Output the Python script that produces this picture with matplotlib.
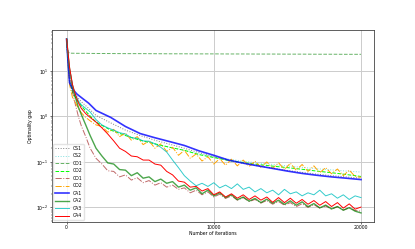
import numpy as np
import matplotlib.pyplot as plt

# smooth curves (CS*, CD*, CA1) sampled on a coarse grid
it_s = [0, 100, 200, 400, 700, 1000, 1500, 2000, 3000, 4000, 5000, 6000, 7000,
        8000, 9000, 10000, 11000, 12000, 13000, 14000, 15000, 16000, 17000,
        18000, 19000, 20000]

cs1 = [50, 15, 5.8, 3.7, 2.7, 2.1, 1.5, 1.05, 0.72, 0.5, 0.38, 0.3, 0.245,
       0.2, 0.16, 0.13, 0.108, 0.093, 0.082, 0.073, 0.065, 0.059, 0.054,
       0.05, 0.047, 0.044]
cs2 = [50, 15, 6, 3.4, 2.3, 1.7, 1.1, 0.75, 0.5, 0.38, 0.3, 0.25, 0.21,
       0.18, 0.15, 0.13, 0.115, 0.104, 0.095, 0.088, 0.082, 0.076, 0.071,
       0.067, 0.063, 0.06]
cd1 = [48, 26, 24.5, 24.4, 24.3, 24.3, 24.2, 24.1, 24.0, 23.9, 23.9, 23.8,
       23.7, 23.7, 23.6, 23.6, 23.5, 23.5, 23.4, 23.4, 23.3, 23.3, 23.2,
       23.2, 23.1, 23.1]
cd2 = [50, 15, 6, 3.4, 2.3, 1.7, 1.1, 0.75, 0.5, 0.38, 0.3, 0.25, 0.21,
       0.18, 0.145, 0.125, 0.108, 0.097, 0.088, 0.081, 0.075, 0.069, 0.063,
       0.058, 0.053, 0.048]
ca1 = [50, 15, 5.5, 4.0, 3.1, 2.6, 1.95, 1.35, 0.95, 0.6, 0.42, 0.34, 0.28,
       0.23, 0.175, 0.14, 0.11, 0.094, 0.082, 0.072, 0.063, 0.056, 0.051,
       0.047, 0.044, 0.041]

# noisy curves (CO*, CA2-4) on a finer grid
it_n = [0, 100, 200, 400, 600, 800, 1000, 1300, 1600, 2000] + list(range(2400, 20001, 400))

co1 = [50, 20, 9, 3.5, 1.8, 1.0, 0.62, 0.36, 0.2, 0.12,
       0.09, 0.064, 0.062, 0.047, 0.052, 0.04, 0.045, 0.035, 0.039, 0.031,
       0.035, 0.028, 0.031, 0.025, 0.027, 0.021, 0.024, 0.019, 0.022, 0.017,
       0.0195, 0.0158, 0.018, 0.0145, 0.0165, 0.0135, 0.015, 0.0125, 0.0142,
       0.0118, 0.0135, 0.0112, 0.0128, 0.0104, 0.0121, 0.0101, 0.0115, 0.0097,
       0.0108, 0.0092, 0.0104, 0.0088, 0.0099, 0.0086, 0.0083]
co2 = [45, 15, 5, 2.6, 2.0, 1.5, 1.2, 0.95, 0.8, 0.65,
       0.6, 0.45, 0.52, 0.36, 0.43, 0.3, 0.36, 0.24, 0.29, 0.2,
       0.25, 0.17, 0.21, 0.14, 0.18, 0.12, 0.15, 0.105, 0.13, 0.09,
       0.118, 0.085, 0.115, 0.082, 0.11, 0.08, 0.104, 0.076, 0.1, 0.072,
       0.096, 0.068, 0.094, 0.066, 0.088, 0.062, 0.082, 0.058, 0.075, 0.055,
       0.07, 0.05, 0.066, 0.048, 0.046]
ca2 = [50, 22, 11, 4.5, 2.6, 1.6, 1.1, 0.65, 0.38, 0.2,
       0.135, 0.095, 0.09, 0.068, 0.066, 0.05, 0.058, 0.044, 0.047, 0.037,
       0.042, 0.034, 0.037, 0.028, 0.031, 0.024, 0.027, 0.02, 0.024, 0.018,
       0.021, 0.0165, 0.019, 0.0148, 0.017, 0.0138, 0.0158, 0.0128, 0.0152,
       0.0124, 0.0145, 0.0117, 0.014, 0.0112, 0.0133, 0.0104, 0.0122, 0.0098,
       0.0113, 0.0093, 0.0105, 0.0087, 0.0099, 0.0083, 0.0076]
ca3 = [50, 22, 11, 5, 3, 2.2, 1.8, 1.5, 1.25, 0.85,
       0.65, 0.56, 0.5, 0.44, 0.41, 0.34, 0.33, 0.29, 0.285, 0.25,
       0.21, 0.165, 0.11, 0.075, 0.05, 0.038, 0.03, 0.034, 0.029, 0.035,
       0.027, 0.031, 0.026, 0.033, 0.025, 0.028, 0.022, 0.026, 0.021, 0.024,
       0.019, 0.025, 0.02, 0.022, 0.018, 0.021, 0.019, 0.024, 0.018, 0.02,
       0.016, 0.019, 0.015, 0.018, 0.0165]
ca4 = [50, 25, 12, 5, 3, 2.0, 1.5, 1.15, 0.95, 0.75,
       0.56, 0.41, 0.29, 0.2, 0.17, 0.135, 0.13, 0.11, 0.11, 0.09,
       0.085, 0.062, 0.052, 0.038, 0.036, 0.028, 0.029, 0.023, 0.026, 0.019,
       0.022, 0.017, 0.02, 0.016, 0.019, 0.015, 0.018, 0.0145, 0.017, 0.013,
       0.0165, 0.0128, 0.016, 0.0124, 0.015, 0.0118, 0.0142, 0.0112, 0.0135,
       0.0105, 0.0128, 0.0097, 0.012, 0.0092, 0.0102]

fs = 3.3
fig, ax = plt.subplots(figsize=(4.15, 2.49), dpi=100)
lw = 0.7
ax.plot(it_s, cs1, ':', color='gray', lw=lw, label='CS1')
ax.plot(it_s, cs2, ':', color='#7fdfdf', lw=lw, label='CS2')
ax.plot(it_s, cd1, '--', color='green', lw=lw, alpha=0.6, label='CD1')
ax.plot(it_s, cd2, '--', color='lime', lw=lw, label='CD2')
ax.plot(it_n, co1, '-.', color='brown', lw=lw, alpha=0.7, label='CO1')
ax.plot(it_n, co2, '-.', color='orange', lw=lw, label='CO2')
ax.plot(it_s, ca1, '-', color='blue', lw=1.2, alpha=0.8, label='CA1')
ax.plot(it_n, ca2, '-', color='green', lw=1.0, alpha=0.7, label='CA2')
ax.plot(it_n, ca3, '-', color='c', lw=lw, alpha=0.8, label='CA3')
ax.plot(it_n, ca4, '-', color='red', lw=lw, label='CA4')

ax.set_yscale('log')
ax.set_xlim(-1000, 20850)
ax.set_ylim(10**-2.31, 10**1.9)
ax.set_xticks([0, 10000, 20000])
ax.grid(True, color='#cccccc', lw=0.7)
ax.tick_params(labelsize=fs, length=1.5, width=0.4, pad=1)
ax.tick_params(which='minor', length=0.8, width=0.3)
for s in ax.spines.values():
    s.set_linewidth(0.6)
    s.set_color('#444444')
ax.set_xlabel('Number of iterations', fontsize=fs, labelpad=1)
ax.set_ylabel('Optimality gap', fontsize=fs, labelpad=2)
ax.legend(loc='lower left', fontsize=fs, handlelength=3, labelspacing=0.55,
          borderaxespad=0.3, framealpha=0.8, edgecolor='#dddddd', fancybox=True)

fig.savefig('out.png', dpi=100)
